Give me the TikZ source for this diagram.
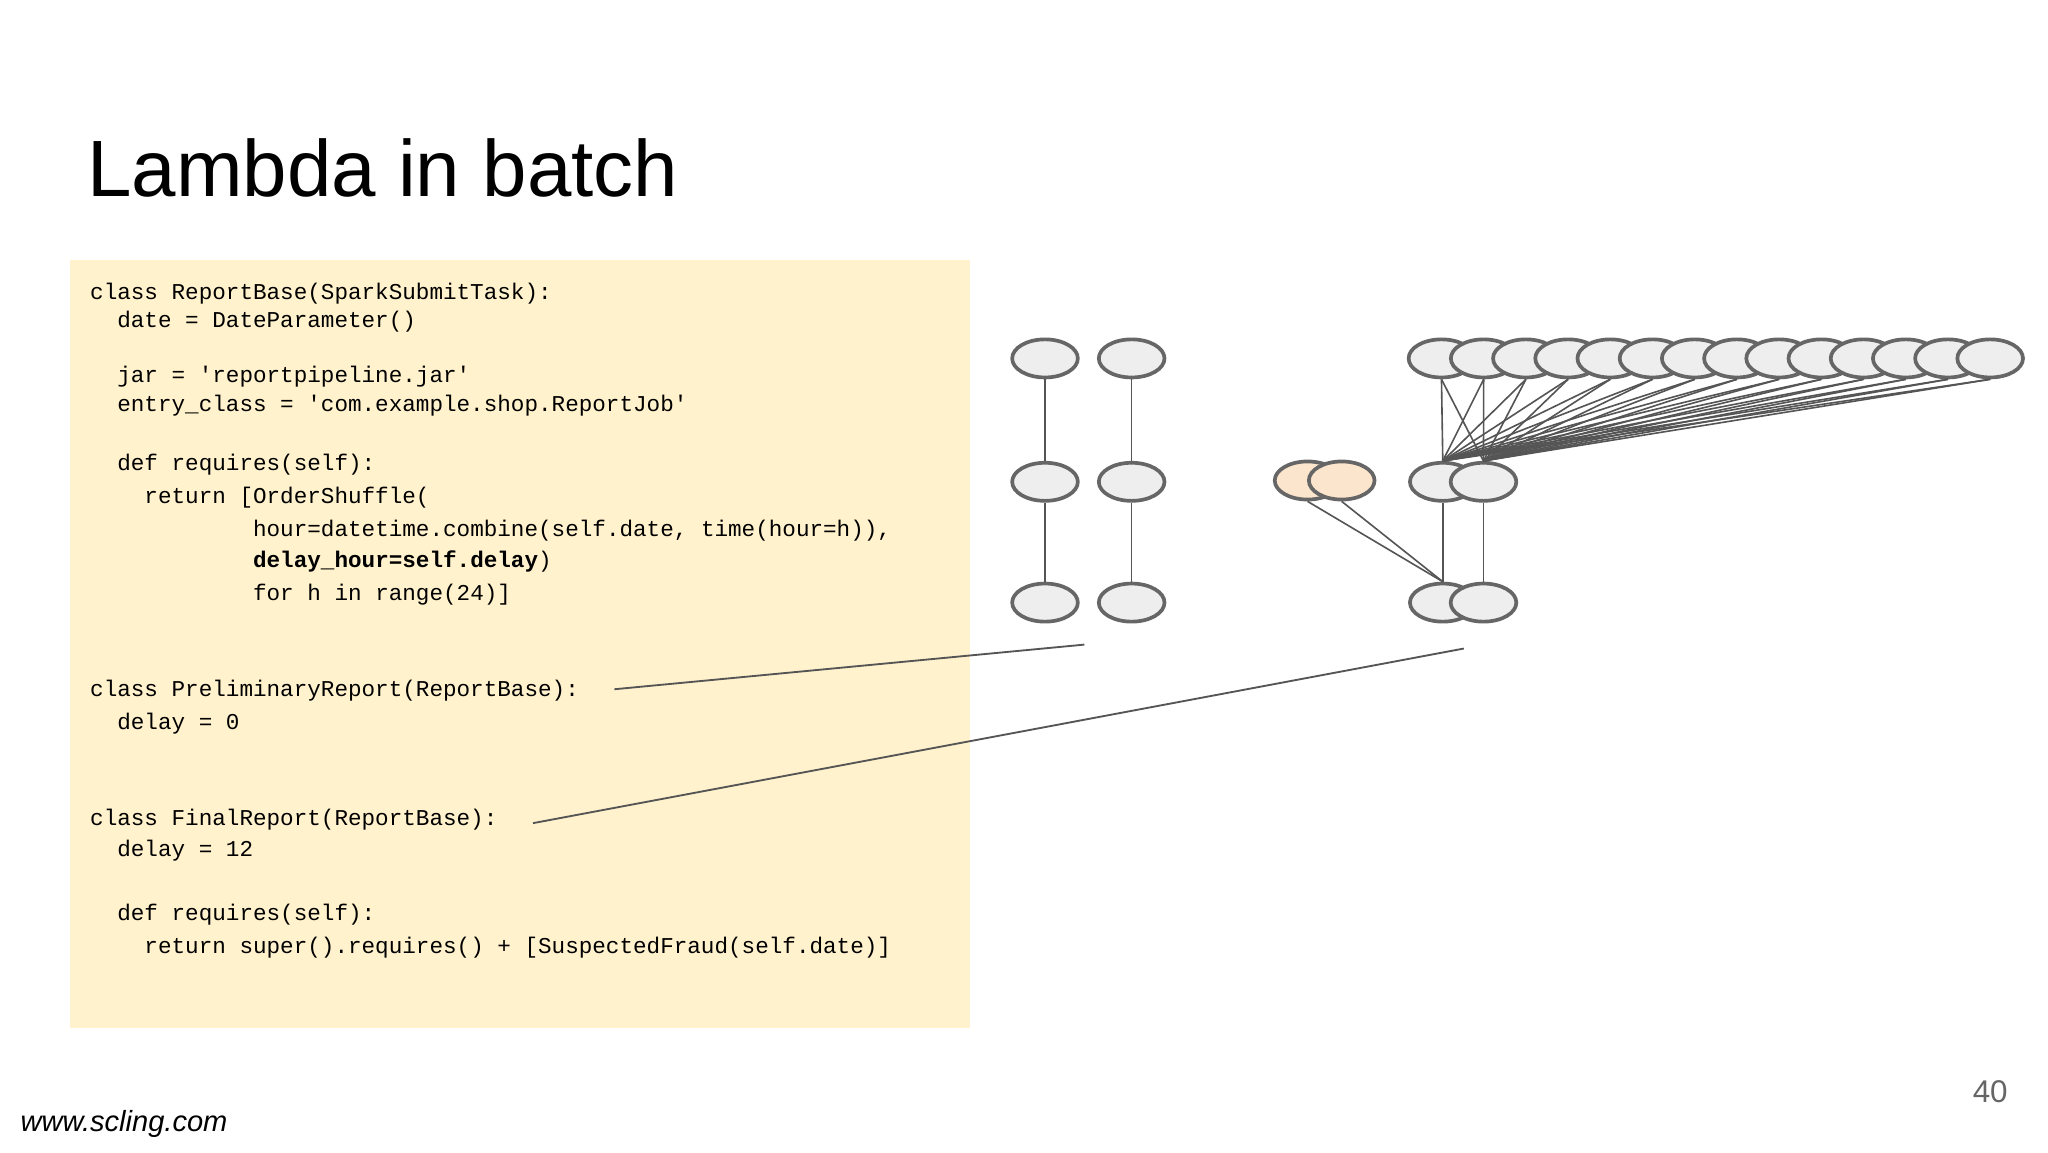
\documentclass[tikz,border=0pt]{standalone}
\usepackage{fontspec}
\setmainfont{Liberation Sans}
\setmonofont{Liberation Mono}
\usetikzlibrary{shapes.geometric}
\definecolor{codebg}{HTML}{FFF2CC}
\definecolor{nodefill}{HTML}{EEEEEE}
\definecolor{nodeline}{HTML}{666666}
\definecolor{hot}{HTML}{FCE5CD}
\definecolor{wire}{HTML}{555555}
\begin{document}
\begin{tikzpicture}[x=0.01cm,y=-0.01cm,
  job/.style={ellipse,draw=nodeline,fill=nodefill,line width=0.8pt,minimum width=0.5cm,minimum height=0.29cm,inner sep=0pt},
  hotjob/.style={job,fill=hot},
  dep/.style={draw=wire,line width=0.35pt},
  code/.style={anchor=west,inner sep=0pt,font=\ttfamily\fontsize{4.9}{6}\selectfont}]
\useasboundingbox (0,0) rectangle (1560,878);
\fill[white] (0,0) rectangle (1560,878);
\node[anchor=base west,inner sep=0pt,font=\fontsize{17.3}{20}\selectfont] (title) at (66,150) {Lambda in batch};
\fill[codebg] (53,198) rectangle (739,783);
% code
\node[code] (c1) at (68,224) {class ReportBase(SparkSubmitTask):};
\node[code] (c2) at (68,245) {\ \ date = DateParameter()};
\node[code] (c3) at (68,287) {\ \ jar = 'reportpipeline.jar'};
\node[code] (c4) at (68,309) {\ \ entry\_class = 'com.example.shop.ReportJob'};
\node[code] (c5) at (68,354) {\ \ def requires(self):};
\node[code] (c6) at (68,379) {\ \ \ \ return [OrderShuffle(};
\node[code] (c7) at (68,404) {\ \ \ \ \ \ \ \ \ \ \ \ hour=datetime.combine(self.date, time(hour=h)),};
\node[code] (c8) at (68,428) {\ \ \ \ \ \ \ \ \ \ \ \ \textbf{delay\_hour=self.delay})};
\node[code] (c9) at (68,453) {\ \ \ \ \ \ \ \ \ \ \ \ for h in range(24)]};
\node[code] (c10) at (68,526) {class PreliminaryReport(ReportBase):};
\node[code] (c11) at (68,551) {\ \ delay = 0};
\node[code] (c12) at (68,624) {class FinalReport(ReportBase):};
\node[code] (c13) at (68,648) {\ \ delay = 12};
\node[code] (c14) at (68,697) {\ \ def requires(self):};
\node[code] (c15) at (68,722) {\ \ \ \ return super().requires() + [SuspectedFraud(self.date)]};
% left columns
\foreach \c/\x in {a/796,b/862}{
  \node[job] (\c1) at (\x,273) {};
  \node[job] (\c2) at (\x,367) {};
  \node[job] (\c3) at (\x,459) {};
  \draw[dep] (\c1) -- (\c2);
  \draw[dep] (\c2) -- (\c3);
}
% right group
\node[job] (m1) at (1099,367) {};
\node[job] (l1) at (1099,459) {};
\node[hotjob] (o1) at (996,366) {};
\node[hotjob] (o2) at (1022,366) {};
\node[job] (m2) at (1130,367) {};
\node[job] (l2) at (1130,459) {};
\foreach \i in {0,...,13}{
  \node[job] (t\i) at ({1098+32.15*\i},273) {};
}
\foreach \i in {0,...,13}{
  \draw[dep] (t\i.south) -- (m1.north);
  \draw[dep] (t\i.south) -- (m2.north);
}
\draw[dep] (o1.south) -- (l1.north);
\draw[dep] (o2.south) -- (l1.north);
\draw[dep] (m1) -- (l1);
\draw[dep] (m2) -- (l2);
% pointers
\coordinate (p1) at (826,491);
\coordinate (p2) at (1115,494);
\draw[dep,line width=0.4pt] (468,525) -- (p1);
\draw[dep,line width=0.4pt] (406,627) -- (p2);
\node[anchor=base east,inner sep=0pt,text=nodeline,font=\fontsize{6.8}{8}\selectfont] (page) at (1530,840) {40};
\node[anchor=base west,inner sep=0pt,font=\itshape\fontsize{6.3}{8}\selectfont] (url) at (15,862) {www.scling.com};
\end{tikzpicture}
\end{document}
